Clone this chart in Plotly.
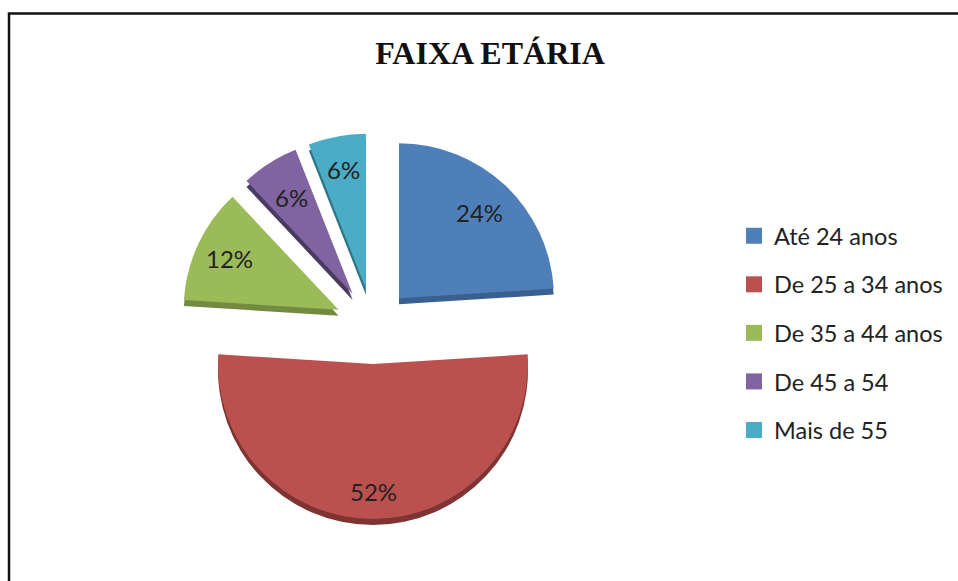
import math
import plotly.graph_objects as go

categories = ["Até 24 anos", "De 25 a 34 anos", "De 35 a 44 anos", "De 45 a 54", "Mais de 55"]
values = [24, 52, 12, 6, 6]
colors = ["#4F7FB8", "#BA514E", "#9BBB59", "#8064A2", "#4BACC6"]
side_colors = ["#3A6090", "#7E3432", "#728A41", "#4A3A60", "#2F7385"]

W, H = 958, 581
CX, CY = 373, 326      # pie centre in pixels
R = 155                # slice radius in pixels
PULL = 38 / R          # explosion as a share of the radius
DEPTH = 6              # height of the 3D side in pixels
LABEL_R = [0.76, 0.82, 0.78, 0.74, 0.78]

def domain(cy):
    outer = R * (1 + PULL)
    return dict(x=[(CX - outer) / W, (CX + outer) / W],
                y=[1 - (cy + outer) / H, 1 - (cy - outer) / H])

fig = go.Figure()
# darker copy below the pie: the visible side of the 3D slices
fig.add_trace(go.Pie(
    labels=categories, values=values, sort=False, direction="clockwise", rotation=0,
    marker=dict(colors=side_colors), pull=PULL, textinfo="none", showlegend=False,
    hoverinfo="skip", domain=domain(CY + DEPTH),
))
fig.add_trace(go.Pie(
    labels=categories, values=values, sort=False, direction="clockwise", rotation=0,
    marker=dict(colors=colors), pull=PULL, textinfo="none", showlegend=False,
    domain=domain(CY),
))

# legend entries, one group each so the gap between rows can be set
for name, color in zip(categories, colors):
    fig.add_trace(go.Scatter(
        x=[None], y=[None], mode="markers", name=name, legendgroup=name,
        marker=dict(symbol="square", size=16, color=color),
    ))

# percent labels placed from the slice angles
total = sum(values)
cum = 0
annotations = []
for v, k in zip(values, LABEL_R):
    a = 2 * math.pi * (cum + v / 2) / total
    cum += v
    dist = R * (PULL + k)
    annotations.append(dict(
        text=f"{round(100 * v / total)}%", showarrow=False,
        xref="paper", yref="paper",
        x=(CX + dist * math.sin(a)) / W, y=1 - (CY - dist * math.cos(a)) / H,
        xanchor="center", yanchor="middle",
        font=dict(family="Lato", size=24, color="#222"),
    ))

fig.update_layout(
    width=W, height=H, paper_bgcolor="white", plot_bgcolor="white",
    margin=dict(l=0, r=0, t=0, b=0),
    xaxis=dict(visible=False), yaxis=dict(visible=False),
    title=dict(text="<b>FAIXA ETÁRIA</b>", x=490 / W, y=1 - 53 / H, xanchor="center", yanchor="middle",
               font=dict(family="Liberation Serif", size=32, color="#111")),
    legend=dict(x=734 / W, y=1 - 214 / H, xanchor="left", yanchor="top",
                font=dict(family="Lato", size=23.5, color="#222"),
                traceorder="grouped", tracegroupgap=15, itemsizing="trace",
                bgcolor="rgba(0,0,0,0)"),
    annotations=annotations,
    shapes=[dict(type="rect", xref="paper", yref="paper", x0=9 / W, x1=1.02, y0=-0.1, y1=1 - 13.5 / H,
                 line=dict(color="#111", width=2.5))],
)
fig.write_html("out.html", config=dict(displayModeBar=False),
               post_script="document.body.style.margin='0';document.body.style.overflow='hidden';")
